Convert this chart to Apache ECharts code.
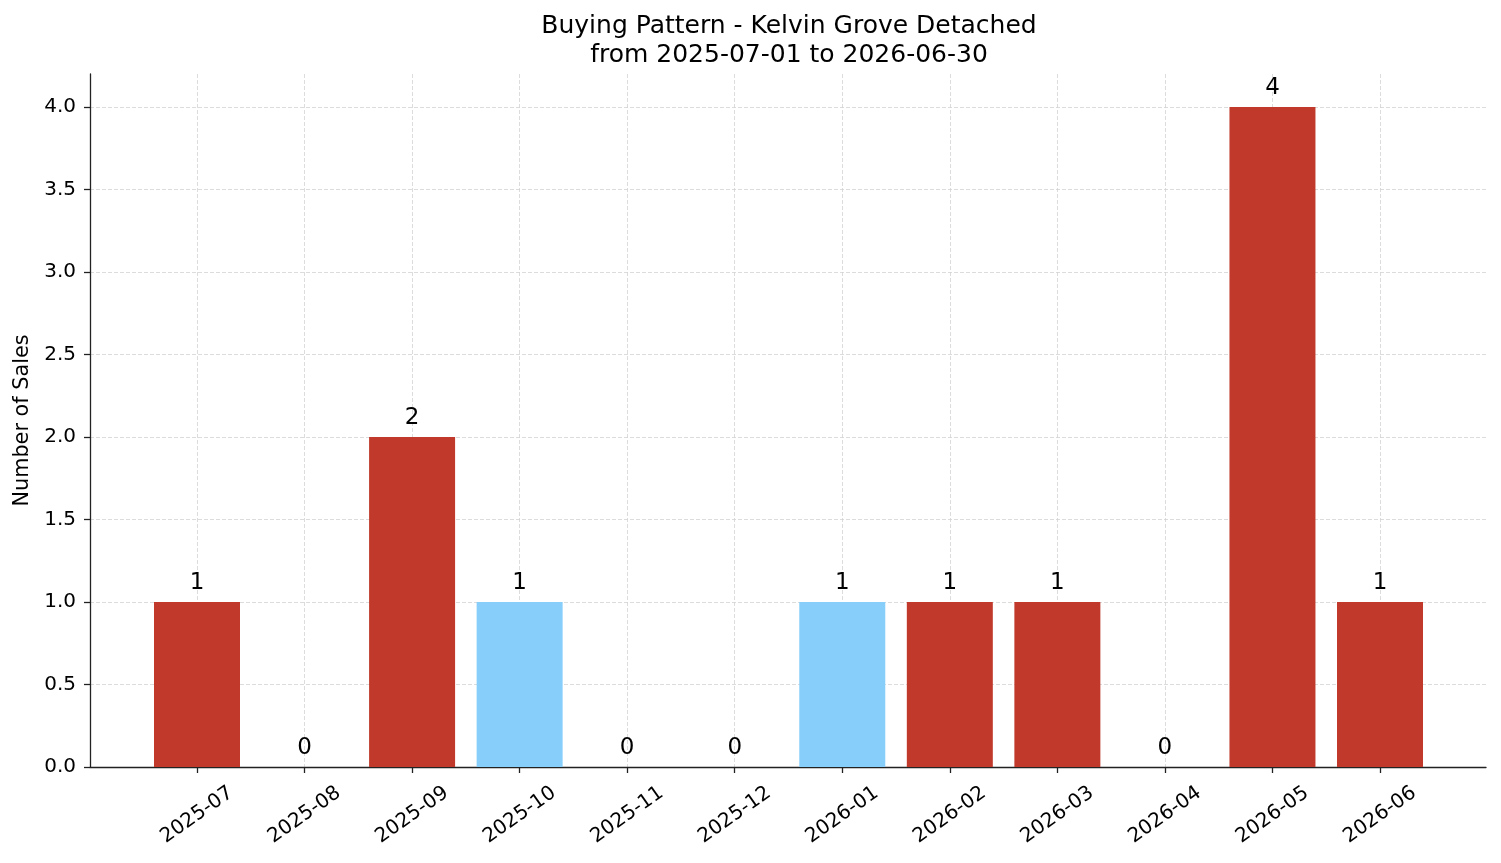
<!DOCTYPE html>
<html>
<head>
<meta charset="utf-8">
<script src="https://cdn.jsdelivr.net/npm/echarts@6/dist/echarts.min.js"></script>
<style>
  html, body { margin: 0; padding: 0; background: #fff; }
  #chart { width: 1501px; height: 863px; }
</style>
</head>
<body>
<div id="chart"></div>
<script>
const months = ["2025-07", "2025-08", "2025-09", "2025-10", "2025-11", "2025-12",
  "2026-01", "2026-02", "2026-03", "2026-04", "2026-05", "2026-06"]
const sales = [1, 0, 2, 1, 0, 0, 1, 1, 1, 0, 4, 1]
const highlightMonths = ["2025-10", "2026-01"]
const yTicks = [0, 0.5, 1, 1.5, 2, 2.5, 3, 3.5, 4]

const font = "DejaVu Sans"
const chart = echarts.init(document.getElementById("chart"))

const dashed = { color: "#d3d3d3", type: [4, 2], width: 0.8 }

chart.setOption({
  animation: false,
  textStyle: { fontFamily: font },
  title: {
    text: "Buying Pattern - Kelvin Grove Detached\nfrom 2025-07-01 to 2026-06-30",
    left: 784,
    top: 7,
    textAlign: "center",
    textStyle: { fontFamily: font, fontSize: 25, fontWeight: "normal", color: "#000", lineHeight: 29 }
  },
  // grid 0 is the full plot box, grid 1 holds the category positions (one unit in from each side)
  grid: [
    { left: 90, right: 15, top: 74, bottom: 96 },
    { left: 197, right: 121, top: 74, bottom: 96 }
  ],
  xAxis: [
    {
      gridIndex: 0, type: "value", min: 0, max: 1,
      axisLine: { show: true, lineStyle: { color: "#222", width: 1.3 } },
      axisTick: { show: false }, axisLabel: { show: false }, splitLine: { show: false }
    },
    {
      gridIndex: 1, type: "category", data: months, boundaryGap: false,
      axisLine: { show: false },
      axisTick: { show: true, length: 6, lineStyle: { color: "#222", width: 1.3 } },
      splitLine: { show: true, lineStyle: dashed },
      axisLabel: {
        interval: 0, rotate: 35, margin: 48, align: "center", verticalAlign: "middle",
        fontFamily: font, fontSize: 20, color: "#000"
      }
    }
  ],
  yAxis: [
    {
      gridIndex: 0, type: "value", min: 0, max: 4.2, interval: 0.5,
      name: "Number of Sales", nameLocation: "middle", nameGap: 57,
      nameTextStyle: { fontFamily: font, fontSize: 20.8, color: "#000" },
      axisLine: { show: true, lineStyle: { color: "#222", width: 1.3 } },
      axisTick: { show: true, length: 6, lineStyle: { color: "#222", width: 1.3 } },
      axisLabel: {
        fontFamily: font, fontSize: 20, color: "#000", margin: 14, showMaxLabel: false,
        formatter: v => yTicks.includes(v) ? v.toFixed(1) : ""
      },
      splitLine: { show: true, showMaxLine: false, lineStyle: dashed }
    },
    {
      gridIndex: 1, type: "value", min: 0, max: 4.2, show: false
    }
  ],
  series: [
    {
      type: "bar",
      xAxisIndex: 1,
      yAxisIndex: 1,
      clip: false,
      barWidth: 86,
      data: sales.map((v, i) => ({
        value: v,
        itemStyle: { color: highlightMonths.includes(months[i]) ? "#87cefa" : "#c0392b" }
      })),
      label: {
        show: true, position: "top", distance: 7,
        fontFamily: font, fontSize: 23, color: "#000"
      }
    }
  ]
})
</script>
</body>
</html>
